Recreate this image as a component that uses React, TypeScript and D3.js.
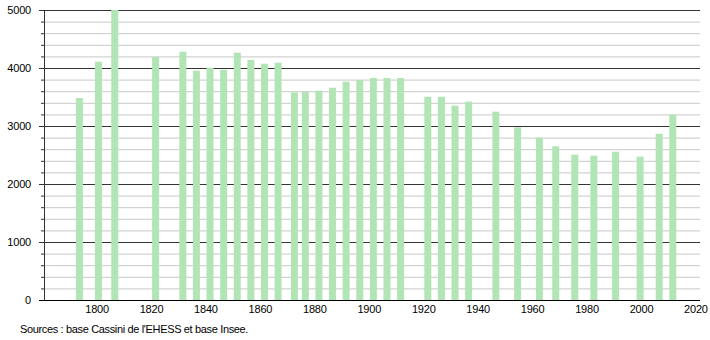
import React from "react";
import * as d3 from "d3";

const years = [1793, 1800, 1806, 1821, 1831, 1836, 1841, 1846, 1851, 1856, 1861, 1866, 1872, 1876, 1881, 1886, 1891, 1896, 1901, 1906, 1911, 1921, 1926, 1931, 1936, 1946, 1954, 1962, 1968, 1975, 1982, 1990, 1999, 2006, 2011];
const population = [3483, 4109, 5000, 4190, 4281, 3953, 4005, 3970, 4264, 4138, 4074, 4091, 3579, 3585, 3609, 3660, 3764, 3793, 3828, 3828, 3828, 3505, 3505, 3350, 3420, 3247, 2977, 2799, 2650, 2506, 2488, 2557, 2471, 2867, 3195];
const xTicks = [1800, 1820, 1840, 1860, 1880, 1900, 1920, 1940, 1960, 1980, 2000, 2020];
const yMajor = [0, 1000, 2000, 3000, 4000, 5000];
const sourceText = "Sources : base Cassini de l'EHESS et base Insee.";

export default function App() {
  const W = 710, H = 340;
  const left = 44, right = 700, top = 10, bottom = 300;
  const x = d3.scaleLinear().domain([1780.5, 2021.5]).range([left, right]);
  const y = d3.scaleLinear().domain([0, 5000]).range([bottom, top]);
  const minor = d3.range(200, 5000, 200).filter((v) => v % 1000 !== 0);
  const barW = 7;
  const font = "'Liberation Sans', Arial, sans-serif";
  return (
    <svg width={W} height={H} style={{ position: "absolute", left: 0, top: 0 }} fontFamily={font}>
      <rect width={W} height={H} fill="#fff" />
      {minor.map((v) => (
        <g key={"m" + v}>
          <line x1={left} x2={right} y1={y(v) + 0.5} y2={y(v) + 0.5} stroke="#c8c8c8" strokeWidth={1} />
          <line x1={left - 3} x2={left} y1={y(v) + 0.5} y2={y(v) + 0.5} stroke="#333" strokeWidth={1} />
        </g>
      ))}
      {yMajor.map((v) => (
        <g key={"M" + v}>
          <line x1={left - 5} x2={right} y1={y(v) + 0.5} y2={y(v) + 0.5} stroke="#333" strokeWidth={1} />
          <text x={31} y={y(v) + 4} fontSize={11} letterSpacing={-0.2} textAnchor="end" fill="#000">{v}</text>
        </g>
      ))}
      {years.map((yr, i) => (
        <rect key={yr} x={x(yr + 0.5) - barW / 2} y={y(population[i])} width={barW} height={bottom - y(population[i])} fill="#b2e5b5" />
      ))}
      <line x1={left + 0.5} x2={left + 0.5} y1={top} y2={bottom} stroke="#333" strokeWidth={1} />
      <line x1={left - 5} x2={right} y1={bottom + 0.5} y2={bottom + 0.5} stroke="#000" strokeWidth={1} />
      {xTicks.map((t) => (
        <text key={t} x={x(t)} y={313} fontSize={11} letterSpacing={-0.2} textAnchor="middle" fill="#000">{t}</text>
      ))}
      <text x={20} y={333} fontSize={11} letterSpacing={-0.35} fill="#000">{sourceText}</text>
    </svg>
  );
}
